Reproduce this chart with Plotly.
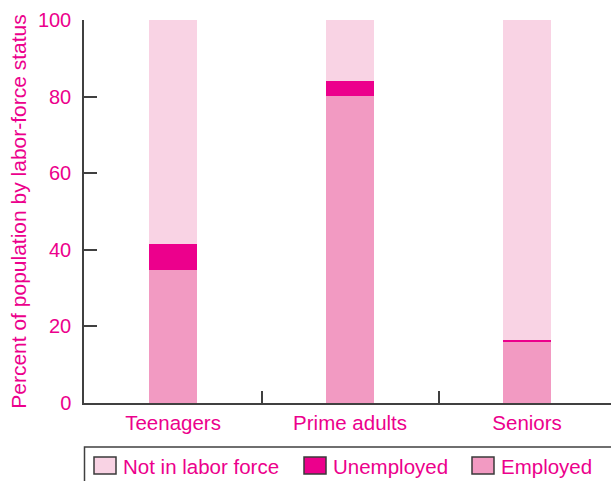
import plotly.graph_objects as go

categories = ["Teenagers", "Prime adults", "Seniors"]
employed = [34.8, 80.2, 15.8]
unemployed = [6.8, 3.8, 0.7]
not_in_labor_force = [58.4, 16.0, 83.5]
y_ticks = [0, 20, 40, 60, 80, 100]
legend_labels = ["Not in labor force", "Unemployed", "Employed"]

C_NILF = "#F9D3E4"
C_UNEMP = "#EC008C"
C_EMP = "#F29AC2"
TEXT = "#EC008C"
AXIS = "#404040"
FONT = "Liberation Sans, Arial, sans-serif"

W, H = 611, 481
ML, MR, MT, MB = 84, 0, 20, 78
PW, PH = W - ML - MR, H - MT - MB

def px(x):
    return (x - ML) / PW

def py(y):
    return (H - MB - y) / PH

fig = go.Figure()
for name, vals, col in [("Employed", employed, C_EMP),
                        ("Unemployed", unemployed, C_UNEMP),
                        ("Not in labor force", not_in_labor_force, C_NILF)]:
    fig.add_trace(go.Bar(x=categories, y=vals, name=name, marker_color=col,
                         marker_line_width=0, width=0.27))

shapes = [dict(type="rect", xref="paper", yref="paper",
               x0=px(84.5), x1=px(640), y0=py(447), y1=py(500),
               line=dict(color=AXIS, width=1.5), fillcolor="rgba(0,0,0,0)")]
annotations = []
swatch_x = [94, 304, 472]
colors = [C_NILF, C_UNEMP, C_EMP]
for sx, lab, col in zip(swatch_x, legend_labels, colors):
    shapes.append(dict(type="rect", xref="paper", yref="paper",
                       x0=px(sx), x1=px(sx + 22), y0=py(474), y1=py(457),
                       line=dict(color="#3a3a3a", width=1.5), fillcolor=col))
    annotations.append(dict(xref="paper", yref="paper", x=px(sx + 27), y=py(466),
                            text=lab, showarrow=False, xanchor="left", yanchor="middle",
                            font=dict(family=FONT, size=20.5, color=TEXT)))

fig.update_layout(
    barmode="stack",
    width=W, height=H,
    margin=dict(l=ML, r=MR, t=MT, b=MB, pad=0),
    plot_bgcolor="white", paper_bgcolor="white",
    showlegend=False,
    bargap=0,
    shapes=shapes,
    annotations=annotations,
    font=dict(family=FONT, color=TEXT),
    xaxis=dict(type="category", range=[-0.503, 2.474], tickson="boundaries",
               ticks="inside", ticklen=12, tickwidth=1.5, tickcolor=AXIS,
               showline=True, linecolor=AXIS, linewidth=2, showgrid=False,
               tickfont=dict(family=FONT, size=20.5, color=TEXT), zeroline=False),
    yaxis=dict(range=[0, 100], tickvals=y_ticks, ticks="inside", ticklen=13,
               tickwidth=1.5, tickcolor=AXIS, showline=True, linecolor=AXIS,
               linewidth=1.5, showgrid=False, zeroline=False,
               tickfont=dict(family=FONT, size=20, color=TEXT),
               ticklabelstandoff=7,
               title=dict(text="Percent of population by labor-force status",
                          font=dict(family=FONT, size=21, color=TEXT), standoff=6)),
)

fig.write_html("out.html", config={"displayModeBar": False})

with open("out.html", "r", encoding="utf-8") as f:
    html = f.read()
html = html.replace("<body>", "<body style=\"margin:0;padding:0;overflow:hidden\">", 1)
html = html.replace("<head>", "<head><style>html,body{margin:0;padding:0;}</style>", 1)
with open("out.html", "w", encoding="utf-8") as f:
    f.write(html)
